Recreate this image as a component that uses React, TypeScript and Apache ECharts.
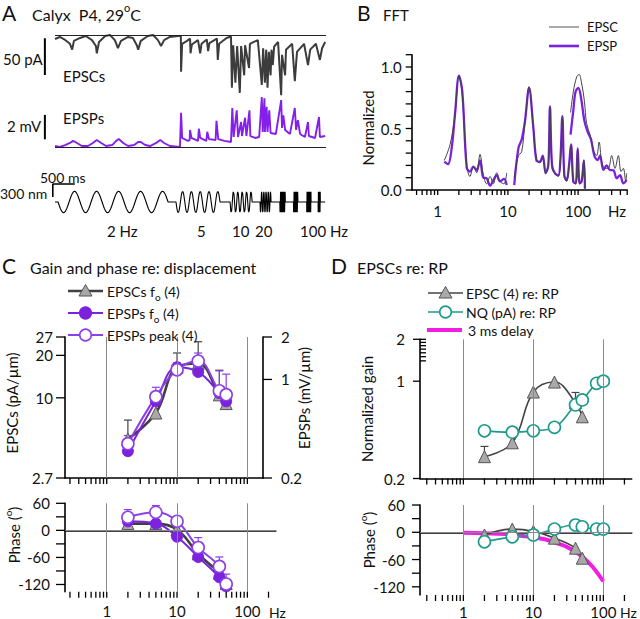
import React, { useEffect, useRef } from "react";
import * as echarts from "echarts";

const FONT = "Lato, 'Open Sans', sans-serif";
const PURPLE = "#8420ea";
const PURPLE_DARK = "#7a22dc";
const PURPLE_OPEN = "#8b3fe6";
const TEAL = "#1e9a8c";
const MAGENTA = "#f21de2";
const DARK = "#3c3c3c";

// ---------------- Panel A : traces (time in s) ----------------
const epscTrace = [
  [0, -5.5], [0.11, -2.7], [0.23, -6.8], [0.34, -12], [0.39, -20], [0.43, -8], [0.57, -4], [0.7, -1.4],
  [0.84, -7], [0.93, -15], [0.95, -25], [1.0, -9.5], [1.14, -1.4], [1.25, 0], [1.36, -7], [1.43, -18],
  [1.5, -8], [1.66, -2.7], [1.77, -4], [1.86, -14], [1.89, -20], [1.95, -8], [2.11, -1.4], [2.23, 0],
  [2.34, -7], [2.41, -15], [2.48, -7], [2.61, -2.7], [2.8, -1.4], [2.86, -1.4],
  [2.865, -50], [2.89, -12], [3.0, -8], [3.07, -5], [3.08, -25], [3.11, -13], [3.25, -7], [3.3, -25],
  [3.33, -12], [3.45, -6], [3.48, -22], [3.51, -11], [3.68, -5], [3.7, -34], [3.73, -12], [3.9, -4], [4.0, -2],
  [4.02, -72], [4.05, -14], [4.1, -65], [4.14, -15], [4.2, -79], [4.23, -15], [4.3, -55], [4.32, -14],
  [4.41, -45], [4.43, -12], [4.52, -9.5], [4.61, -7],
  [4.7, -68], [4.73, -18], [4.77, -65], [4.8, -20], [4.83, -72], [4.86, -23], [4.9, -55], [4.92, -20],
  [4.95, -41], [4.98, -16], [5.07, -9.5],
  [5.14, -82], [5.16, -27], [5.23, -55], [5.25, -20], [5.39, -12], [5.45, -63], [5.5, -23], [5.66, -12],
  [5.75, -41], [5.8, -20], [5.93, -12], [6.02, -34], [6.07, -18], [6.14, -9.5],
];
const epspTrace = [
  [0, 0.08], [0.11, 0], [0.23, 0.16], [0.34, 0.33], [0.41, 0.5], [0.5, 0.33], [0.61, 0.08], [0.75, 0.08],
  [0.86, 0.33], [0.95, 0.57], [1.05, 0.33], [1.16, 0.08], [1.3, 0.16], [1.39, 0.5], [1.45, 0.65], [1.55, 0.33],
  [1.66, 0.08], [1.8, 0.16], [1.89, 0.41], [1.95, 0.41], [2.05, 0.16], [2.16, 0.08], [2.3, 0.33], [2.39, 0.57],
  [2.48, 0.33], [2.61, 0.08], [2.84, 0],
  [2.865, 2.8], [2.89, 0.74], [3.02, 0.5], [3.06, 0.57], [3.07, 1.4], [3.1, 0.74], [3.25, 0.5], [3.27, 1.5],
  [3.3, 0.74], [3.44, 0.5], [3.46, 1.25], [3.5, 0.65], [3.65, 0.57], [3.67, 2.15], [3.71, 0.65], [3.85, 0.5], [4.0, 0.41],
  [4.03, 3.2], [4.06, 0.82], [4.13, 3.0], [4.16, 0.82], [4.23, 2.05], [4.25, 0.9], [4.32, 2.4], [4.35, 0.9],
  [4.42, 3.0], [4.44, 0.9], [4.55, 0.74], [4.64, 0.82],
  [4.7, 4.1], [4.72, 1.23], [4.76, 4.0], [4.77, 1.23], [4.81, 3.3], [4.83, 1.23], [4.87, 3.0], [4.9, 1.15], [5.02, 1.07],
  [5.14, 3.85], [5.16, 1.56], [5.19, 2.6], [5.23, 1.4], [5.34, 1.07], [5.45, 3.2], [5.48, 1.4], [5.52, 2.2],
  [5.57, 1.07], [5.68, 0.82], [5.75, 2.05], [5.77, 0.9], [5.91, 0.74], [6.0, 2.46], [6.02, 0.82], [6.14, 0.9],
];
// stimulus protocol (sinusoidal displacement)
const stimFreqs = [2, 5, 10, 20, 40, 50, 80, 100];
const stimOnsets = [0.07, 2.75, 3.98, 4.66, 5.11, 5.42, 5.72, 5.98];
const stimCycles = [5, 5, 5, 5, 5, 5, 8, 5];
const stimAmp = 250; // nm
const stimEnd = 6.14;

// ---------------- Panel B : FFT ----------------
const fftEpspF1 = [1.24, 1.4, 1.58, 1.76, 2.01, 2.24, 2.59, 2.88, 3.22, 3.59, 4.0, 4.47, 4.99, 5.56, 6.2, 6.92, 7.71, 8.8, 9.6];
const fftEpspV1 = [0.23, 0.21, 0.34, 0.61, 0.93, 0.8, 0.18, 0.15, 0.19, 0.16, 0.24, 0.1, 0.095, 0.035, 0.08, 0.12, 0.07, 0.09, 0.04];
const fftEpscF1 = [1.24, 1.5, 1.76, 2.01, 2.24, 2.59, 2.88, 3.22, 3.59, 4.0, 4.47, 4.99, 5.56, 6.2, 6.92, 7.71, 8.8, 9.6];
const fftEpscV1 = [0.24, 0.37, 0.61, 0.93, 0.77, 0.2, 0.11, 0.19, 0.14, 0.29, 0.12, 0.05, 0.11, 0.05, 0.14, 0.07, 0.05, 0.14];
const fftF2 = [12.3, 14.1, 15.7, 17.5, 20, 23, 25.5, 28.6, 31.3, 34.5, 37.6, 39.7, 42.5, 46.9, 52.3, 55.8, 59.6, 63.6, 68.7, 74.2, 79.2, 85.5, 92.3, 98.6, 105, 112, 121, 125];
const fftEpspV2 = [0.04, 0.34, 0.41, 0.56, 0.83, 0.51, 0.24, 0.23, 0.28, 0.14, 0.2, 0.68, 0.2, 0.136, 0.12, 0.24, 0.6, 0.12, 0.08, 0.2, 0.37, 0.068, 0.054, 0.34, 0.054, 0.068, 0.24, 0.01];
const fftEpscV2 = [0.1, 0.28, 0.31, 0.55, 0.84, 0.5, 0.25, 0.22, 0.27, 0.13, 0.2, 0.67, 0.18, 0.13, 0.11, 0.23, 0.58, 0.1, 0.07, 0.2, 0.36, 0.06, 0.05, 0.33, 0.05, 0.07, 0.24, 0.01];
const fftEpscF3 = [78, 85.5, 95.4, 103, 112, 123, 132, 148, 165, 184, 199, 217, 242, 269, 300, 335, 374, 408, 441, 476, 492];
const fftEpscV3 = [0.63, 0.8, 0.92, 0.94, 0.87, 0.72, 0.54, 0.45, 0.325, 0.28, 0.39, 0.23, 0.176, 0.176, 0.28, 0.176, 0.28, 0.15, 0.176, 0.07, 0.136];
const fftEpspF3 = [78, 85.5, 92, 100.7, 110, 123, 137, 153, 170, 190, 205, 229, 255, 284, 318, 354, 395, 441, 492];
const fftEpspV3 = [0.45, 0.65, 0.8, 0.83, 0.75, 0.56, 0.47, 0.41, 0.28, 0.244, 0.28, 0.163, 0.2, 0.163, 0.16, 0.095, 0.12, 0.054, 0.08];

// ---------------- Panel C ----------------
const cFreq = [2, 5, 10, 20, 40, 50];
const cEpscGain = [5.1, 7.8, 16.5, 17.5, 10.5, 9.1]; // pA/um
const cEpscGainErr = [6.95, null, 20.8, 25, 15.7, null];
const cEpspGain = [0.31, 0.7, 1.22, 1.13, 0.8, 0.7]; // mV/um
const cPeakGain = [0.35, 0.755, 1.17, 1.35, 0.83, 0.78];
const cPeakGainErr = [0.4, 0.88, 1.31, 1.54, 1.15, 1.09];
const cEpscPhase = [15, 15, 2, -52, -95, -118];
const cEpspPhase = [20, 15, -14, -59, -104, -124];
const cPeakPhase = [29, 40, 20, -38, -80, -119];
const cPeakPhaseErr = [46, 55, 31, -16, -59, -97];

// ---------------- Panel D ----------------
const dEpscFreq = [2, 5, 10, 20, 40, 50];
const dEpscGain = [0.287, 0.361, 0.836, 0.986, 0.7, 0.555];
const dEpscGainErr = [0.34, null, null, null, 0.83, null];
const dEpscPhase = [-6, 7, 2, -13, -35, -57];
const dNqFreq = [2, 5, 10, 20, 40, 50, 80, 100];
const dNqGain = [0.44, 0.43, 0.44, 0.466, 0.676, 0.733, 0.965, 1.0];
const dNqPhase = [-21, -10, -6, 7, 16, 12, 7, 7];
const delayFreq = [1, 2, 3, 5, 7, 10, 15, 20, 30, 40, 50, 70, 100];
const delayPhase = [-1, -2, -3, -5, -8, -11, -16, -22, -32, -43, -54, -76, -108];

// axis tick values
const logTicks = [0.3, 0.4, 0.5, 0.6, 0.7, 0.8, 0.9, 1, 2, 3, 4, 5, 6, 7, 8, 9, 10, 20, 30, 40, 50, 60, 70, 80, 90, 100, 200, 300, 400, 500];
const logLabels = [1, 10, 100];
const fftYTicks = [0, 0.1, 0.2, 0.3, 0.4, 0.5, 0.6, 0.7, 0.8, 0.9, 1.0, 1.1];
const fftYLabels = [0, 0.5, 1];
const phaseTicks = [60, 30, 0, -30, -60, -90, -120];
const phaseLabels = [60, 0, -60, -120];
const cGainLeftTicks = [2.7, 10, 20, 27];
const cGainRightTicks = [0.2, 1, 2];
const dGainTicks = [0.2, 1, 2];
const dGainLadder = [1.4, 1.5, 1.6, 1.7, 1.8, 1.9, 2];

const zip = (a: number[], b: any[]) => a.map((v, i) => [v, b[i]]);

function buildOption() {
  const axLine = { show: true, lineStyle: { color: "#000", width: 1.6 } };
  const lbl = (extra: any) => ({ fontSize: 15, fontFamily: FONT, color: "#111", ...extra });

  const hiddenX = (g: number) => ({ type: "value", gridIndex: g, min: -0.25, max: 6.2, show: false });
  const hiddenY = (g: number, min: number, max: number) => ({ type: "value", gridIndex: g, min, max, show: false });

  const logX = (g: number, min: number, max: number, labels: boolean, margin = 12) => ({
    type: "log", logBase: 10, gridIndex: g, min, max,
    axisLine: axLine,
    axisTick: { show: false },
    axisLabel: labels ? lbl({ show: true, margin, customValues: logLabels }) : { show: false },
    splitLine: { show: false },
  });

  const grid = (left: number, top: number, width: number, height: number) => ({
    left, top, width, height, containLabel: false, outerBoundsMode: "none",
  });

  const grids = [
    grid(44, 27.67, 283.8, 73.3), // 0 EPSC trace
    grid(44, 92.1, 283.8, 61), // 1 EPSP trace
    grid(44, 180.65, 283.8, 42.7), // 2 stimulus
    grid(411.7, 54.7, 215.5, 135.3), // 3 FFT
    grid(65, 337, 198, 141), // 4 C gain
    grid(65, 503.3, 210.7, 88.4), // 5 C phase
    grid(420, 339.3, 211.7, 139.2), // 6 D gain
    grid(420, 505, 211.7, 90), // 7 D phase
  ];

  const xAxes = [
    hiddenX(0), hiddenX(1), hiddenX(2),
    logX(3, 0.426, 500, true, 13),
    logX(4, 0.255, 167, false),
    logX(5, 0.255, 253, true, 12),
    logX(6, 0.24, 254, false),
    logX(7, 0.24, 254, true, 9),
  ];

  const yAx = (type: string, g: number, min: number, max: number, position: string, labels: number[], margin: number, fmt?: any) => ({
    type, ...(type === "log" ? { logBase: 10 } : {}), gridIndex: g, position, min, max,
    axisLine: axLine, splitLine: { show: false }, axisTick: { show: false },
    axisLabel: lbl({ margin, customValues: labels, ...(fmt ? { formatter: fmt } : {}) }),
  });

  const yAxes: any[] = [
    hiddenY(0, -90, 10), // 0
    hiddenY(1, -0.5, 4.5), // 1
    hiddenY(2, -500, 500), // 2
    yAx("value", 3, 0, 1.1, "left", fftYLabels, 10, (v: number) => v.toFixed(1)), // 3
    yAx("log", 4, 2.7, 27, "left", cGainLeftTicks, 12), // 4
    yAx("log", 4, 0.2, 2, "right", cGainRightTicks, 18), // 5
    yAx("value", 5, -136, 60, "left", phaseLabels, 15), // 6
    yAx("log", 6, 0.2, 2, "left", dGainTicks, 15), // 7
    yAx("value", 7, -138, 60, "left", phaseLabels, 15), // 8
  ];

  const S: any[] = [];
  const plain = (xi: number, yi: number, data: any[], color: string, width: number, extra: any = {}) => ({
    type: "line", xAxisIndex: xi, yAxisIndex: yi, data, symbol: "none", silent: true, z: 3,
    lineStyle: { color, width }, ...extra,
  });

  // tick marks drawn through the axes' own scales
  // dir: 'x' => ticks on horizontal axis at y = at ; 'y' => ticks on vertical axis at x = at
  const ticks = (xi: number, yi: number, values: number[], dir: string, at: number, len: number) => ({
    type: "custom", xAxisIndex: xi, yAxisIndex: yi, silent: true, z: 6, clip: false,
    encode: { x: 0, y: 1 },
    data: values.map((v) => (dir === "x" ? [v, at] : [at, v])),
    renderItem: (_p: any, api: any) => {
      const p = api.coord([api.value(0), api.value(1)]);
      const shape = dir === "x"
        ? { x1: p[0], y1: p[1], x2: p[0], y2: p[1] + len }
        : { x1: p[0], y1: p[1], x2: p[0] + len, y2: p[1] };
      return { type: "line", shape, style: { stroke: "#000", lineWidth: 1.3 } };
    },
  });
  const inRange = (vals: number[], a: number, b: number) => vals.filter((v) => v >= a && v <= b);

  // ---- Panel A ----
  const refLine = (end: number) => ({
    silent: true, symbol: ["none", "none"], label: { show: false },
    lineStyle: { color: "#222", width: 1, type: "solid" },
    data: [[{ coord: [0, 0] }, { coord: [end, 0] }]],
  });
  S.push(plain(0, 0, epscTrace, DARK, 2, { markLine: refLine(6.16) }));
  S.push(plain(0, 0, [[-0.23, -4.5], [-0.23, -54.5]], "#000", 2));
  S.push(plain(1, 1, epspTrace, PURPLE, 1.9, { markLine: refLine(6.16) }));
  S.push(plain(1, 1, [[-0.23, 0.63], [-0.23, 2.63]], "#000", 2));
  const stimData: number[][] = [[0, 0]];
  stimFreqs.forEach((f, i) => {
    const t0 = stimOnsets[i];
    const n = stimCycles[i] * 20;
    const dur = stimCycles[i] / f;
    stimData.push([t0, 0]);
    for (let k = 1; k <= n; k++) {
      stimData.push([t0 + (dur * k) / n, -stimAmp * Math.sin((2 * Math.PI * k) / 20)]);
    }
  });
  stimData.push([stimEnd, 0]);
  S.push(plain(2, 2, stimData, "#000", 1.1));
  S.push(plain(2, 2, [[0.45, 420], [-0.05, 420], [-0.05, 120]], "#000", 1.6));

  // ---- Panel B ----
  S.push(plain(3, 3, zip(fftEpspF1, fftEpspV1), PURPLE_DARK, 2.3, { smooth: 0.35 }));
  S.push(plain(3, 3, zip(fftF2, fftEpspV2), PURPLE_DARK, 2.3, { smooth: 0.35 }));
  S.push(plain(3, 3, zip(fftEpspF3, fftEpspV3), PURPLE_DARK, 2.3, { smooth: 0.35 }));
  S.push(plain(3, 3, zip(fftEpscF1, fftEpscV1), "#444", 1, { smooth: 0.35 }));
  S.push(plain(3, 3, zip(fftF2, fftEpscV2), "#444", 1, { smooth: 0.35 }));
  S.push(plain(3, 3, zip(fftEpscF3, fftEpscV3), "#444", 1, { smooth: 0.35 }));
  S.push(ticks(3, 3, inRange(logTicks, 0.426, 500), "x", 0, 5));
  S.push(ticks(3, 3, fftYTicks, "y", 0.426, -6));

  // decorations (vertical gridlines, zero line)
  const decor = (xi: number, yi: number, zero: boolean) => ({
    type: "line", xAxisIndex: xi, yAxisIndex: yi, data: [], silent: true, z: 1,
    markLine: {
      silent: true, symbol: ["none", "none"], label: { show: false },
      lineStyle: { color: "#8a8a8a", width: 1, type: "solid" },
      data: [{ xAxis: 1 }, { xAxis: 10 }, { xAxis: 100 }, ...(zero ? [{ yAxis: 0 }] : [])],
    },
  });
  const errBars = (xi: number, yi: number, freqs: number[], vals: number[], ups: any[], color: string) => ({
    type: "custom", xAxisIndex: xi, yAxisIndex: yi, silent: true, z: 2, clip: false,
    encode: { x: 0, y: [1, 2] },
    data: freqs.map((f, i) => (ups[i] == null ? null : [f, vals[i], ups[i]])).filter((d) => d),
    renderItem: (_p: any, api: any) => {
      const a = api.coord([api.value(0), api.value(1)]);
      const b = api.coord([api.value(0), api.value(2)]);
      const st = { stroke: color, lineWidth: 1.2 };
      return {
        type: "group",
        children: [
          { type: "line", shape: { x1: a[0], y1: a[1], x2: b[0], y2: b[1] }, style: st },
          { type: "line", shape: { x1: b[0] - 4, y1: b[1], x2: b[0] + 4, y2: b[1] }, style: st },
        ],
      };
    },
  });
  const marked = (xi: number, yi: number, data: any[], kind: string, lineColor: string, lw: number) => {
    const sym: any = {
      tri: { symbol: "triangle", symbolSize: 12, itemStyle: { color: "#a9a9a9", borderColor: "#555", borderWidth: 1 } },
      dot: { symbol: "circle", symbolSize: 11, itemStyle: { color: PURPLE_DARK, borderColor: PURPLE_DARK, borderWidth: 1 } },
      open: { symbol: "circle", symbolSize: 12, itemStyle: { color: "#fff", borderColor: PURPLE_OPEN, borderWidth: 1.6 } },
      teal: { symbol: "circle", symbolSize: 12, itemStyle: { color: "#fff", borderColor: TEAL, borderWidth: 1.6 } },
    }[kind];
    return {
      type: "line", xAxisIndex: xi, yAxisIndex: yi, data, smooth: 0.4, silent: true, z: 3,
      showSymbol: true, showAllSymbol: true, lineStyle: { color: lineColor, width: lw }, ...sym,
    };
  };

  // ---- Panel C ----
  S.push(decor(4, 4, false));
  S.push(errBars(4, 4, cFreq, cEpscGain, cEpscGainErr, "#444"));
  S.push(errBars(4, 5, cFreq, cPeakGain, cPeakGainErr, PURPLE_OPEN));
  S.push(marked(4, 4, zip(cFreq, cEpscGain), "tri", "#404040", 2.6));
  S.push(marked(4, 5, zip(cFreq, cEpspGain), "dot", PURPLE_DARK, 2));
  S.push(marked(4, 5, zip(cFreq, cPeakGain), "open", PURPLE_OPEN, 2));
  S.push(ticks(4, 4, inRange(logTicks, 0.255, 167), "x", 2.7, 6));
  S.push(ticks(4, 4, cGainLeftTicks, "y", 0.255, -9));
  S.push(ticks(4, 5, cGainRightTicks, "y", 167, 9));

  S.push(decor(5, 6, true));
  S.push(errBars(5, 6, cFreq, cPeakPhase, cPeakPhaseErr, PURPLE_OPEN));
  S.push(marked(5, 6, zip(cFreq, cEpscPhase), "tri", "#404040", 2.6));
  S.push(marked(5, 6, zip(cFreq, cEpspPhase), "dot", PURPLE_DARK, 2));
  S.push(marked(5, 6, zip(cFreq, cPeakPhase), "open", PURPLE_OPEN, 2));
  S.push(ticks(5, 6, inRange(logTicks, 0.255, 253), "x", -136, 6));
  S.push(ticks(5, 6, phaseTicks, "y", 0.255, -9));

  // ---- Panel D ----
  S.push(decor(6, 7, false));
  S.push(errBars(6, 7, dEpscFreq, dEpscGain, dEpscGainErr, "#444"));
  S.push(marked(6, 7, zip(dEpscFreq, dEpscGain), "tri", "#444", 1.6));
  S.push(marked(6, 7, zip(dNqFreq, dNqGain), "teal", TEAL, 1.6));
  S.push(ticks(6, 7, inRange(logTicks, 0.24, 254), "x", 0.2, 6));
  S.push(ticks(6, 7, dGainTicks, "y", 0.24, -7));
  S.push(ticks(6, 7, dGainLadder, "y", 0.24, 6));

  S.push(decor(7, 8, true));
  S.push(plain(7, 8, zip(delayFreq, delayPhase), MAGENTA, 4, { smooth: 0.3, z: 2 }));
  S.push(marked(7, 8, zip(dEpscFreq, dEpscPhase), "tri", "#444", 1.6));
  S.push(marked(7, 8, zip(dNqFreq, dNqPhase), "teal", TEAL, 1.6));
  S.push(ticks(7, 8, inRange(logTicks, 0.24, 254), "x", -138, 6));
  S.push(ticks(7, 8, phaseTicks, "y", 0.24, -8));

  // ---------------- graphic texts / legends ----------------
  const G: any[] = [];
  const rich = (size: number) => ({
    n: { fontSize: size, fontFamily: FONT, fill: "#111", color: "#111", lineHeight: size + 8, verticalAlign: "middle" },
    s: { fontSize: Math.round(size * 0.68), fontFamily: FONT, fill: "#111", color: "#111", verticalAlign: "bottom" },
    p: { fontSize: Math.round(size * 0.68), fontFamily: FONT, fill: "#111", color: "#111", verticalAlign: "top" },
  });
  const T = (x: number, y: number, text: string, size = 15, extra: any = {}) =>
    G.push({
      type: "text", x, y, rotation: extra.rot || 0, silent: true, z: 100,
      style: {
        text, fill: "#111", fontSize: size, fontFamily: FONT,
        align: extra.align || "left", verticalAlign: "middle",
        textAlign: extra.align || "left", textVerticalAlign: "middle",
        rich: extra.rich ? rich(size) : undefined,
      },
    });
  const L = (x1: number, y: number, x2: number, color: string, w: number) =>
    G.push({ type: "line", silent: true, z: 99, shape: { x1, y1: y, x2, y2: y }, style: { stroke: color, lineWidth: w } });
  const tri = (cx: number, cy: number) =>
    G.push({ type: "polygon", silent: true, z: 100, shape: { points: [[cx, cy - 6.5], [cx - 6.5, cy + 5], [cx + 6.5, cy + 5]] },
      style: { fill: "#a9a9a9", stroke: "#555", lineWidth: 1 } });
  const circ = (cx: number, cy: number, fill: string, stroke: string) =>
    G.push({ type: "circle", silent: true, z: 100, shape: { cx, cy, r: 5.8 }, style: { fill, stroke, lineWidth: 1.6 } });

  // Panel A
  T(2, 12, "A", 21);
  T(32, 14, "{n|Calyx  P4, 29}{p|o}{n|C}", 16, { rich: true });
  T(3, 59, "50 pA", 15);
  T(63, 76, "EPSCs", 15);
  T(63, 118, "EPSPs", 15);
  T(7, 126, "2 mV", 15);
  T(40, 177, "500 ms", 14);
  T(0, 193, "300 nm", 14);
  T(107, 231, "2 Hz", 15);
  T(197, 231, "5", 15);
  T(232, 231, "10", 15);
  T(255, 231, "20", 15);
  T(300, 231, "100 Hz", 15);

  // Panel B
  T(357, 12, "B", 21);
  T(383, 15, "FFT", 15);
  L(549, 27, 579, "#555", 1);
  T(587, 27, "EPSC", 13);
  L(549, 46, 579, PURPLE_DARK, 2.6);
  T(587, 46, "EPSP", 13);
  T(368, 128, "Normalized", 15, { rot: Math.PI / 2, align: "center" });
  T(608, 211, "Hz", 15);

  // Panel C
  T(2, 265, "C", 21);
  T(30, 267, "Gain and phase re: displacement", 16);
  L(68, 291, 103, "#404040", 2.6);
  tri(85.5, 291);
  T(107, 291, "{n|EPSCs f}{s|o}{n| (4)}", 14, { rich: true });
  L(68, 313, 103, PURPLE_DARK, 2);
  circ(85.5, 313, PURPLE_DARK, PURPLE_DARK);
  T(107, 313, "{n|EPSPs f}{s|o}{n| (4)}", 14, { rich: true });
  L(68, 335, 103, PURPLE_OPEN, 2);
  circ(85.5, 335, "#fff", PURPLE_OPEN);
  T(107, 335, "EPSPs peak (4)", 14);
  T(12, 403, "EPSCs (pA/\u00b5m)", 15, { rot: Math.PI / 2, align: "center" });
  T(304, 398, "EPSPs (mV/\u00b5m)", 15, { rot: Math.PI / 2, align: "center" });
  T(14, 535, "{n|Phase (}{p|o}{n|)}", 15, { rot: Math.PI / 2, align: "center", rich: true });
  T(269, 612, "Hz", 14);

  // Panel D
  T(331, 265, "D", 21);
  T(357, 267, "EPSCs re: RP", 16);
  L(428, 293, 463, "#444", 1.6);
  tri(445.5, 293);
  T(466, 293, "EPSC (4) re: RP", 14);
  L(428, 312, 463, TEAL, 1.6);
  circ(445.5, 312, "#fff", TEAL);
  T(466, 312, "NQ (pA) re: RP", 14);
  L(427, 330, 462, MAGENTA, 4);
  T(468, 330, "3 ms delay", 14);
  T(367, 409, "Normalized gain", 15, { rot: Math.PI / 2, align: "center" });
  T(369, 540, "{n|Phase (}{p|o}{n|)}", 15, { rot: Math.PI / 2, align: "center", rich: true });
  T(620, 612, "Hz", 14);

  return {
    animation: false,
    backgroundColor: "#fff",
    textStyle: { fontFamily: FONT },
    grid: grids,
    xAxis: xAxes,
    yAxis: yAxes,
    series: S,
    graphic: { elements: G },
  };
}

export default function App() {
  const ref = useRef<HTMLDivElement>(null);
  useEffect(() => {
    const chart = echarts.init(ref.current as HTMLDivElement, null, { renderer: "svg" });
    chart.setOption(buildOption() as any);
    return () => chart.dispose();
  }, []);
  return (
    <div
      ref={ref}
      style={{ position: "absolute", left: 0, top: 0, width: 640, height: 619, background: "#fff" }}
    />
  );
}
